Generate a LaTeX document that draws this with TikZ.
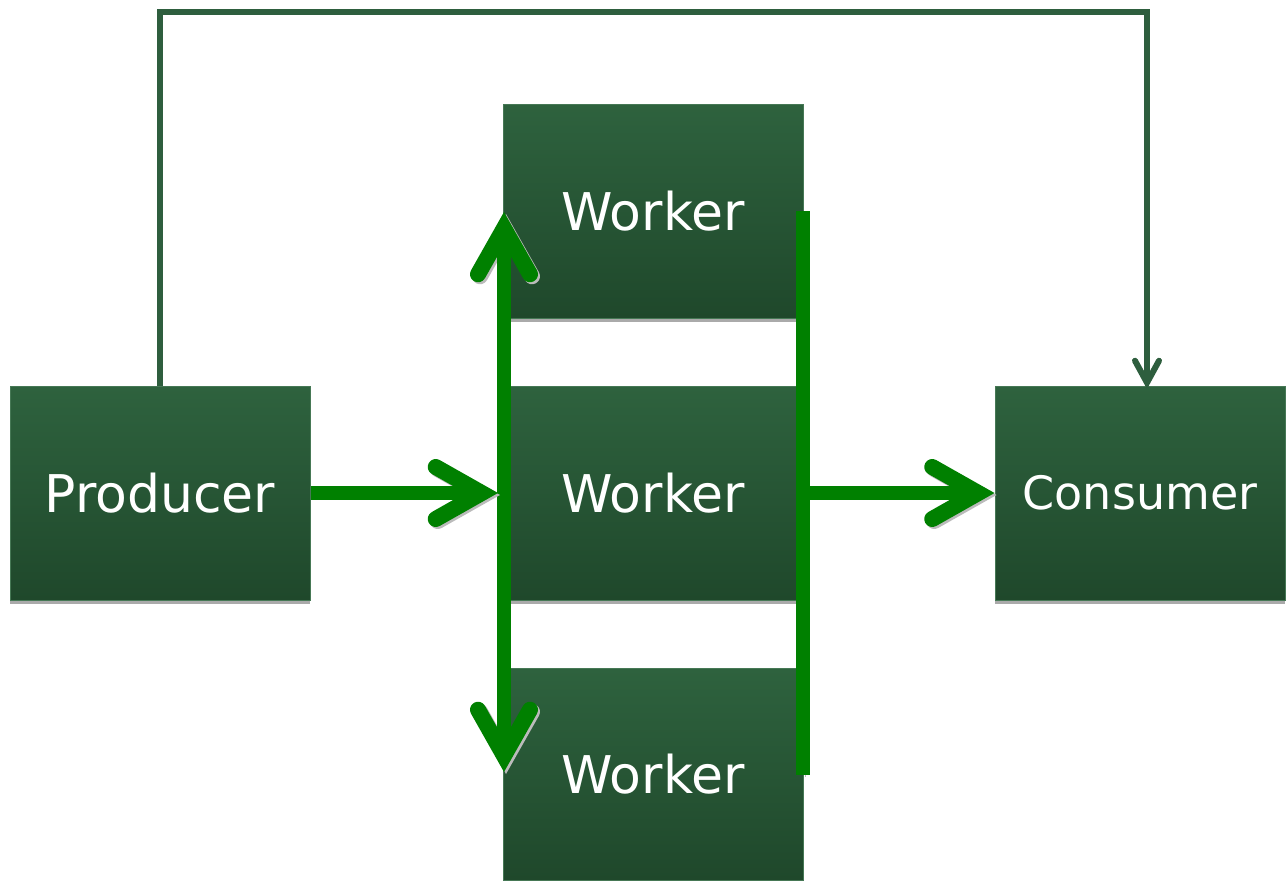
\documentclass[tikz,border=0pt]{standalone}
\usepackage{fontspec}
\setmainfont{DejaVu Sans}
\usetikzlibrary{arrows.meta}
\definecolor{boxtop}{RGB}{46,98,62}
\definecolor{boxbot}{RGB}{31,72,43}
\definecolor{boxedge}{RGB}{70,120,85}
\definecolor{flow}{RGB}{0,128,0}
\definecolor{fb}{RGB}{46,94,62}
\definecolor{shade}{RGB}{170,170,170}
\begin{document}
\begin{tikzpicture}[x=1pt,y=-1pt,
  box/.style={rectangle, minimum width=300pt, minimum height=214pt, inner sep=0pt,
    top color=boxtop, bottom color=boxbot, draw=boxedge, line width=1pt,
    text=white, font=\fontsize{52pt}{60pt}\selectfont,
    preaction={fill=shade, transform canvas={shift={(0pt,-4pt)}}}},
  flowline/.style={draw=flow, line width=14pt,
    preaction={draw=shade!80, transform canvas={shift={(2pt,-2pt)}}}},
  thickarrow/.style={-{Straight Barb[length=46pt, width=52pt, line width=2pt 1, line cap=round, line join=miter]}},
  fbline/.style={draw=fb, line width=6pt, line join=miter,
    -{Straight Barb[length=22pt, width=24pt, line cap=round, line join=miter]}}
]
\useasboundingbox (0,0) rectangle (1286,881);

\node[box] (p) at (160,493) {Producer};
\node[box] (w1) at (653,211) {Worker};
\node[box] (w2) at (653,493) {Worker};
\node[box, minimum height=212pt] (w3) at (653,774) {Worker};
\node[box, minimum width=290pt, font=\fontsize{46pt}{54pt}\selectfont] (c) at (1140,493) {Consumer};

\coordinate (vt) at (504,212);
\coordinate (vb) at (504,772);
\coordinate (pin) at (498,493);
\coordinate (rt) at (803,211);
\coordinate (rb) at (803,775);
\coordinate (rm) at (803,493);
\coordinate (fbc) at (1147,12);
\coordinate (cin) at (1147,389);

\draw[fbline] (p.north) |- (fbc) -- (cin);

\draw[flowline, {Straight Barb[length=46pt, width=52pt, line width=2pt 1, line cap=round, line join=miter]}-{Straight Barb[length=46pt, width=52pt, line width=2pt 1, line cap=round, line join=miter]}] (vt) -- (vb);
\draw[flowline, thickarrow] (p.east) -- (pin);
\draw[flowline] (rt) -- (rb);
\draw[flowline, thickarrow] (rm) -- (c.west);
\end{tikzpicture}
\end{document}
